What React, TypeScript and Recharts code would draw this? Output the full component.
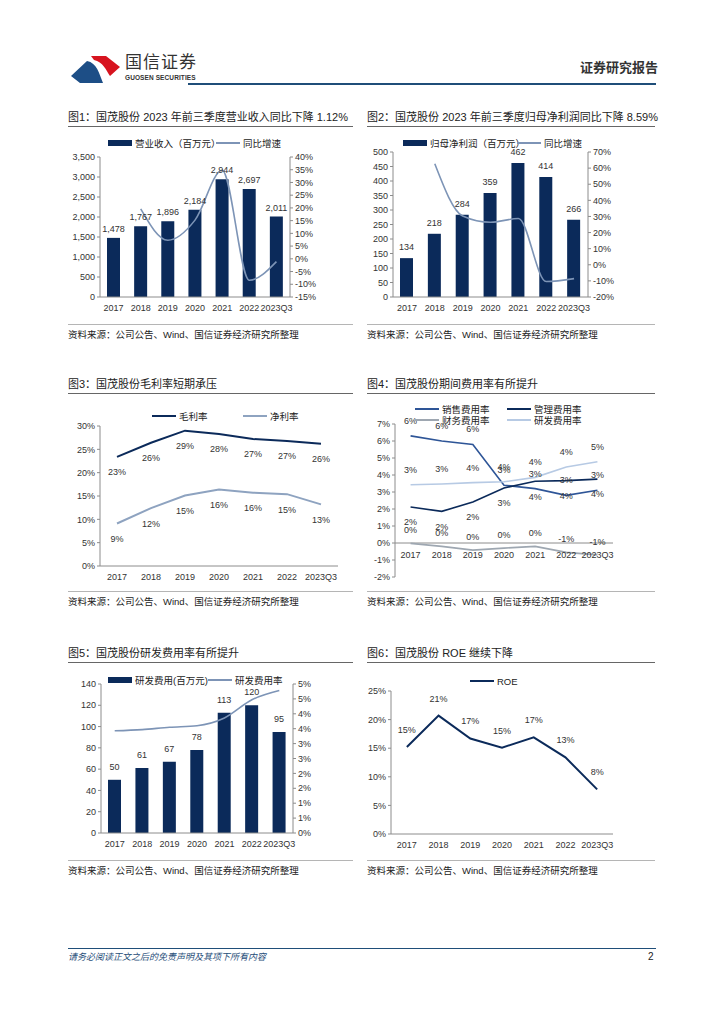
import React from 'react';
import {
  ComposedChart,
  Bar,
  Line,
  XAxis,
  YAxis,
  LabelList,
  ReferenceLine,
} from 'recharts';

// ─── Data ────────────────────────────────────────────────────────────────────

const YEARS = ['2017', '2018', '2019', '2020', '2021', '2022', '2023Q3'];

const REVENUE = [1478, 1767, 1896, 2184, 2944, 2697, 2011];
const REVENUE_YOY = [null, 19.6, 7.3, 15.2, 34.8, -8.4, -1.1];

const PROFIT = [134, 218, 284, 359, 462, 414, 266];
const PROFIT_YOY = [null, 62.7, 30.3, 26.4, 28.7, -10.4, -8.6];

const GROSS_MARGIN = [23.4, 26.4, 29.0, 28.3, 27.2, 26.8, 26.2];
const NET_MARGIN = [9.1, 12.4, 15.1, 16.4, 15.7, 15.4, 13.2];

const SELLING_RATE = [6.3, 6.0, 5.8, 3.4, 3.2, 2.8, 3.1];
const ADMIN_RATE = [2.12, 1.86, 2.41, 3.24, 3.63, 3.67, 3.76];
const FINANCE_RATE = [-0.02, -0.2, -0.42, -0.3, -0.2, -0.55, -0.7];
const RD_RATE = [3.43, 3.47, 3.55, 3.6, 3.86, 4.47, 4.78];

const RD_EXPENSE = [50, 61, 67, 78, 113, 120, 95];

const ROE = [15.2, 20.7, 16.7, 15.1, 16.9, 13.4, 7.8];

const TICKS_REV = [0, 500, 1000, 1500, 2000, 2500, 3000, 3500];
const TICKS_REV_YOY = [-15, -10, -5, 0, 5, 10, 15, 20, 25, 30, 35, 40];
const TICKS_PROFIT = [0, 50, 100, 150, 200, 250, 300, 350, 400, 450, 500];
const TICKS_PROFIT_YOY = [-20, -10, 0, 10, 20, 30, 40, 50, 60, 70];
const TICKS_MARGIN = [0, 5, 10, 15, 20, 25, 30];
const TICKS_EXP = [-2, -1, 0, 1, 2, 3, 4, 5, 6, 7];
const TICKS_RD = [0, 20, 40, 60, 80, 100, 120, 140];
const TICKS_RD_RATE = [0, 0.5, 1, 1.5, 2, 2.5, 3, 3.5, 4, 4.5, 5];
const TICKS_ROE = [0, 5, 10, 15, 20, 25];

const rows = YEARS.map((year, i) => ({
  year,
  revenue: REVENUE[i],
  revenueYoy: REVENUE_YOY[i],
  profit: PROFIT[i],
  profitYoy: PROFIT_YOY[i],
  gross: GROSS_MARGIN[i],
  net: NET_MARGIN[i],
  selling: SELLING_RATE[i],
  admin: ADMIN_RATE[i],
  finance: FINANCE_RATE[i],
  rd: RD_RATE[i],
  rdExp: RD_EXPENSE[i],
  roe: ROE[i],
}));

// ─── Styles ──────────────────────────────────────────────────────────────────

const FONT = 'Arial, "Liberation Sans", "Noto Sans CJK SC", sans-serif';
const NAVY = '#0b2a5a';
const YOY = '#7d94b6';
const SELL = '#2e5597';
const FIN = '#9ea7b1';
const RD = '#b7cae4';
const NET = '#8ea3c0';
const AXIS = '#8c8c8c';
const TICK = { fontSize: 9, fill: '#333', fontFamily: FONT };
const LABEL = { fontSize: 9, fill: '#333', fontFamily: FONT };

const thousands = (v: number) => v.toLocaleString('en-US');
const pct = (v: number) => `${v}%`;
const pct0 = (v: number) => `${Math.round(v)}%`;

// half a category band on each side, so line points sit in the middle of each year
const halfBand = (plotWidth: number) => ({ left: plotWidth / YEARS.length / 2, right: plotWidth / YEARS.length / 2 });

// ─── Page pieces ─────────────────────────────────────────────────────────────

function Abs({ x, y, children, style }: { x: number; y: number; children?: React.ReactNode; style?: React.CSSProperties }) {
  return <div style={{ position: 'absolute', left: x, top: y, ...style }}>{children}</div>;
}

function HLine({ x, y, w, color = '#555', h = 1 }: { x: number; y: number; w: number; color?: string; h?: number }) {
  return <div style={{ position: 'absolute', left: x, top: y, width: w, height: h, background: color }} />;
}

function Frame({ x, w, top, title }: { x: number; w: number; top: number; title: string }) {
  return (
    <>
      <Abs x={x} y={top} style={{ fontSize: 11, color: '#222', whiteSpace: 'nowrap', lineHeight: '14px' }}>{title}</Abs>
      <HLine x={x} y={top + 16} w={w} color="#666" />
      <HLine x={x} y={top + 214} w={w} color="#b5b5b5" />
      <Abs x={x} y={top + 219} style={{ fontSize: 9.5, color: '#222', whiteSpace: 'nowrap', lineHeight: '12px' }}>
        资料来源：公司公告、Wind、国信证券经济研究所整理
      </Abs>
    </>
  );
}

type LegendItem = { x: number; y: number; label: string; color: string; kind: 'bar' | 'line' };

function LegendRow({ items }: { items: LegendItem[] }) {
  return (
    <>
      {items.map((it) => (
        <Abs key={it.label} x={it.x} y={it.y - 6} style={{ display: 'flex', alignItems: 'center', height: 12, whiteSpace: 'nowrap' }}>
          <span
            style={{
              display: 'inline-block',
              width: 24,
              height: it.kind === 'bar' ? 6 : 2,
              background: it.color,
              marginRight: 3,
            }}
          />
          <span style={{ fontSize: 9.5, color: '#222' }}>{it.label}</span>
        </Abs>
      ))}
    </>
  );
}

function Logo() {
  return (
    <>
      <svg style={{ position: 'absolute', left: 70, top: 53 }} width={52} height={32} viewBox="0 0 52 32">
        <path d="M21 3 L36 3 L50 14 L40 23 C36 17 33 9 24 7 Z" fill="#d7141f" />
        <path d="M1 23 L17 8 C27 10 29 20 33 30 L10 30 Z" fill="#1d4e86" />
      </svg>
      <Abs x={125} y={53} style={{ fontSize: 17, color: '#333', letterSpacing: 1, lineHeight: '20px' }}>国信证券</Abs>
      <Abs x={125} y={74} style={{ fontSize: 6.5, color: '#333', fontWeight: 700, lineHeight: '8px', letterSpacing: 0.1 }}>
        GUOSEN SECURITIES
      </Abs>
      <Abs x={580} y={60} style={{ fontSize: 13, color: '#333', fontWeight: 700, lineHeight: '16px' }}>证券研究报告</Abs>
      <HLine x={188} y={83} w={468} color="#1f4e79" h={2} />
    </>
  );
}

// ─── Chart 4 helper: category labels sit on the zero line ──────────────────

const C4_PLOT_H = 153;
function ZeroTick(props: any) {
  const { x, y, payload } = props;
  return (
    <text x={x} y={y - (C4_PLOT_H * 2) / 9} dy={7} textAnchor="middle" {...TICK}>
      {payload.value}
    </text>
  );
}

const yAxisStyle = {
  tick: TICK,
  tickSize: 3,
  tickLine: { stroke: AXIS },
  axisLine: { stroke: AXIS },
  interval: 0 as const,
};

// ─── Charts ──────────────────────────────────────────────────────────────────

function RevenueChart() {
  return (
    <ComposedChart width={300} height={190} data={rows} margin={{ top: 27, right: 40, left: 0, bottom: 0 }}>
      <XAxis dataKey="year" interval={0} tick={TICK} tickLine={false} axisLine={{ stroke: AXIS }} height={23} />
      <YAxis yAxisId="l" width={40} domain={[0, 3500]} ticks={TICKS_REV} tickFormatter={thousands} {...yAxisStyle} />
      <YAxis yAxisId="r" orientation="right" width={30} domain={[-15, 40]} ticks={TICKS_REV_YOY} tickFormatter={pct} {...yAxisStyle} />
      <Bar yAxisId="l" dataKey="revenue" fill={NAVY} barSize={13} isAnimationActive={false}>
        <LabelList dataKey="revenue" position="top" offset={6} formatter={thousands} {...LABEL} />
      </Bar>
      <Line yAxisId="r" type="monotone" dataKey="revenueYoy" stroke={YOY} strokeWidth={1.6} dot={false} isAnimationActive={false} />
    </ComposedChart>
  );
}

function ProfitChart() {
  return (
    <ComposedChart width={300} height={190} data={rows} margin={{ top: 22, right: 42, left: 0, bottom: 0 }}>
      <XAxis dataKey="year" interval={0} tick={TICK} tickLine={false} axisLine={{ stroke: AXIS }} height={23} />
      <YAxis yAxisId="l" width={33} domain={[0, 500]} ticks={TICKS_PROFIT} {...yAxisStyle} />
      <YAxis yAxisId="r" orientation="right" width={30} domain={[-20, 70]} ticks={TICKS_PROFIT_YOY} tickFormatter={pct} {...yAxisStyle} />
      <Bar yAxisId="l" dataKey="profit" fill={NAVY} barSize={13} isAnimationActive={false}>
        <LabelList dataKey="profit" position="top" offset={8} {...LABEL} />
      </Bar>
      <Line yAxisId="r" type="monotone" dataKey="profitYoy" stroke={YOY} strokeWidth={1.6} dot={false} isAnimationActive={false} />
    </ComposedChart>
  );
}

function MarginChart() {
  return (
    <ComposedChart width={300} height={195} data={rows} margin={{ top: 31, right: 22, left: 0, bottom: 0 }}>
      <XAxis dataKey="year" interval={0} tick={TICK} tickLine={false} axisLine={{ stroke: AXIS }} height={24} padding={halfBand(238)} />
      <YAxis width={40} domain={[0, 30]} ticks={TICKS_MARGIN} tickFormatter={pct} {...yAxisStyle} />
      <Line type="linear" dataKey="gross" stroke={NAVY} strokeWidth={2} dot={false} isAnimationActive={false}>
        <LabelList dataKey="gross" position="bottom" offset={12} formatter={pct0} {...LABEL} />
      </Line>
      <Line type="linear" dataKey="net" stroke={NET} strokeWidth={2} dot={false} isAnimationActive={false}>
        <LabelList dataKey="net" position="bottom" offset={12} formatter={pct0} {...LABEL} />
      </Line>
    </ComposedChart>
  );
}

function ExpenseChart() {
  return (
    <ComposedChart width={300} height={195} data={rows} margin={{ top: 29, right: 47, left: 0, bottom: 0 }}>
      <XAxis dataKey="year" interval={0} tick={<ZeroTick />} tickLine={false} axisLine={false} height={13} padding={halfBand(218)} />
      <YAxis width={35} domain={[-2, 7]} ticks={TICKS_EXP} tickFormatter={pct} {...yAxisStyle} />
      <ReferenceLine y={0} stroke={AXIS} />
      <Line type="linear" dataKey="selling" stroke={SELL} strokeWidth={1.6} dot={false} isAnimationActive={false}>
        <LabelList dataKey="selling" position="top" offset={12} formatter={pct0} {...LABEL} />
      </Line>
      <Line type="linear" dataKey="admin" stroke={NAVY} strokeWidth={1.6} dot={false} isAnimationActive={false}>
        <LabelList dataKey="admin" position="bottom" offset={12} formatter={pct0} {...LABEL} />
      </Line>
      <Line type="linear" dataKey="finance" stroke={FIN} strokeWidth={1.6} dot={false} isAnimationActive={false}>
        <LabelList dataKey="finance" position="top" offset={10} formatter={pct0} {...LABEL} />
      </Line>
      <Line type="linear" dataKey="rd" stroke={RD} strokeWidth={1.6} dot={false} isAnimationActive={false}>
        <LabelList dataKey="rd" position="top" offset={12} formatter={pct0} {...LABEL} />
      </Line>
    </ComposedChart>
  );
}

function RdChart() {
  return (
    <ComposedChart width={300} height={200} data={rows} margin={{ top: 24, right: 37, left: 0, bottom: 0 }}>
      <XAxis dataKey="year" interval={0} tick={TICK} tickLine={false} axisLine={{ stroke: AXIS }} height={27} />
      <YAxis yAxisId="l" width={41} domain={[0, 140]} ticks={TICKS_RD} {...yAxisStyle} />
      <YAxis yAxisId="r" orientation="right" width={30} domain={[0, 5]} ticks={TICKS_RD_RATE} tickFormatter={pct0} {...yAxisStyle} />
      <Bar yAxisId="l" dataKey="rdExp" fill={NAVY} barSize={13} isAnimationActive={false}>
        <LabelList dataKey="rdExp" position="top" offset={10} {...LABEL} />
      </Bar>
      <Line yAxisId="r" type="monotone" dataKey="rd" stroke={YOY} strokeWidth={1.6} dot={false} isAnimationActive={false} />
    </ComposedChart>
  );
}

function RoeChart() {
  return (
    <ComposedChart width={300} height={200} data={rows} margin={{ top: 31, right: 47, left: 0, bottom: 0 }}>
      <XAxis dataKey="year" interval={0} tick={TICK} tickLine={false} axisLine={{ stroke: AXIS }} height={26} padding={halfBand(222)} />
      <YAxis width={31} domain={[0, 25]} ticks={TICKS_ROE} tickFormatter={pct} {...yAxisStyle} />
      <Line type="linear" dataKey="roe" stroke={NAVY} strokeWidth={2} dot={false} isAnimationActive={false}>
        <LabelList dataKey="roe" position="top" offset={14} formatter={pct0} {...LABEL} />
      </Line>
    </ComposedChart>
  );
}

// ─── Page ────────────────────────────────────────────────────────────────────

export default function App() {
  return (
    <div style={{ position: 'relative', width: 724, height: 1024, background: '#fff', fontFamily: FONT, overflow: 'hidden' }}>
      <style>{'body{margin:0}'}</style>
      <Logo />

      <Frame x={68} w={285} top={110} title="图1：国茂股份 2023 年前三季度营业收入同比下降 1.12%" />
      <Frame x={367} w={288} top={110} title="图2：国茂股份 2023 年前三季度归母净利润同比下降 8.59%" />
      <Frame x={68} w={285} top={377} title="图3：国茂股份毛利率短期承压" />
      <Frame x={367} w={288} top={377} title="图4：国茂股份期间费用率有所提升" />
      <Frame x={68} w={285} top={646} title="图5：国茂股份研发费用率有所提升" />
      <Frame x={367} w={288} top={646} title="图6：国茂股份 ROE 继续下降" />

      <Abs x={60} y={130}><RevenueChart /></Abs>
      <Abs x={360} y={130}><ProfitChart /></Abs>
      <Abs x={60} y={395}><MarginChart /></Abs>
      <Abs x={360} y={395}><ExpenseChart /></Abs>
      <Abs x={60} y={660}><RdChart /></Abs>
      <Abs x={360} y={660}><RoeChart /></Abs>

      <LegendRow
        items={[
          { x: 108, y: 143, label: '营业收入（百万元）', color: NAVY, kind: 'bar' },
          { x: 216, y: 143, label: '同比增速', color: YOY, kind: 'line' },
          { x: 403, y: 143, label: '归母净利润（百万元）', color: NAVY, kind: 'bar' },
          { x: 517, y: 143, label: '同比增速', color: YOY, kind: 'line' },
          { x: 152, y: 416, label: '毛利率', color: NAVY, kind: 'line' },
          { x: 243, y: 416, label: '净利率', color: NET, kind: 'line' },
          { x: 415, y: 409, label: '销售费用率', color: SELL, kind: 'line' },
          { x: 507, y: 409, label: '管理费用率', color: NAVY, kind: 'line' },
          { x: 415, y: 420, label: '财务费用率', color: FIN, kind: 'line' },
          { x: 507, y: 420, label: '研发费用率', color: RD, kind: 'line' },
          { x: 108, y: 680, label: '研发费用(百万元)', color: NAVY, kind: 'bar' },
          { x: 208, y: 680, label: '研发费用率', color: YOY, kind: 'line' },
          { x: 470, y: 681, label: 'ROE', color: NAVY, kind: 'line' },
        ]}
      />

      <HLine x={68} y={948} w={588} color="#1f4e79" />
      <Abs x={68} y={951} style={{ fontSize: 9, fontStyle: 'italic', color: '#1f4e79', lineHeight: '12px', whiteSpace: 'nowrap' }}>
        请务必阅读正文之后的免责声明及其项下所有内容
      </Abs>
      <Abs x={648} y={951} style={{ fontSize: 10, color: '#222', lineHeight: '12px' }}>2</Abs>
    </div>
  );
}
